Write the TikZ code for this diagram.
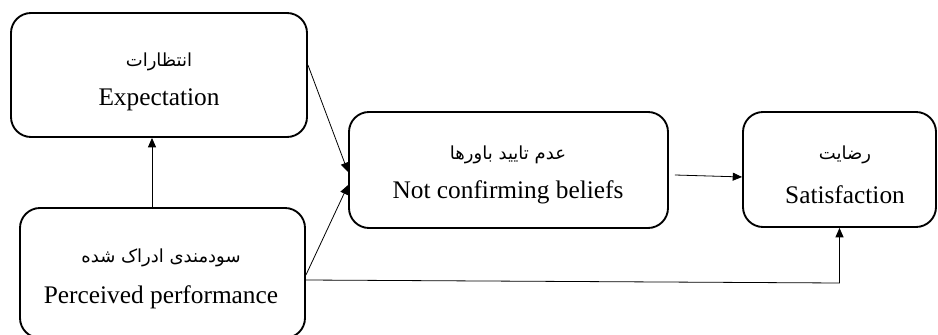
\documentclass[tikz,border=0pt]{standalone}
\usepackage{fontspec}
\setmainfont{Liberation Serif}
\newfontfamily\arabicfont[Script=Arabic]{DejaVu Sans}
\newfontfamily\latinserif{Liberation Serif}
\TeXXeTstate=1
\usetikzlibrary{arrows.meta,calc}
\tikzset{
  box/.style={draw, line width=1.4pt, rounded corners=15pt, align=center, inner sep=0pt},
  arr/.style={line width=0.6pt, -{Triangle[length=7pt,width=6pt]}},
  en/.style={font=\latinserif\fontsize{19}{22}\selectfont},
  fa/.style={font=\arabicfont\fontsize{13.5}{15}\selectfont}
}
\begin{document}
\begin{tikzpicture}[x=0.75pt,y=-0.75pt]
\useasboundingbox (0,0) rectangle (938,335);
\clip (0,0) rectangle (938,335);
\node[box, minimum width={296*0.75pt}, minimum height={124*0.75pt}] (exp) at (159,75) {};
\node[box, minimum width={285*0.75pt}, minimum height={130*0.75pt}] (per) at (162.5,273) {};
\node[box, minimum width={319*0.75pt}, minimum height={116*0.75pt}] (ncb) at (508.5,170) {};
\node[box, minimum width={193*0.75pt}, minimum height={115*0.75pt}] (sat) at (839.5,169.5) {};
% English texts
\node[en] (expen) at (159,100) {Expectation};
\node[en] (peren) at (161,297) {Perceived performance};
\node[en] (ncben) at (508,192) {Not confirming beliefs};
\node[en] (saten) at (845,195) {Satisfaction};
% Persian texts
\node[fa] (expfa) at (159,62) {\beginR انتظارات\endR};
\node[fa] (perfa) at (161,258) {\beginR سودمندی ادراک شده\endR};
\node[fa] (ncbfa) at (508,155) {\beginR عدم تایید باورها\endR};
\node[fa] (satfa) at (845,155) {\beginR رضایت\endR};
% connectors
\draw[arr] ([xshift=-7.875pt]per.north) -- ([xshift=-7.875pt]per.north |- exp.south);
\draw[arr] ([yshift=7.5pt]exp.east) -- ([yshift=-1.5pt]ncb.west);
\draw[arr] ([yshift=-1.5pt]per.east) -- ([yshift=-11.25pt]ncb.west);
\draw[arr] ([xshift=4.5pt,yshift=-3.75pt]ncb.east) -- ([yshift=-5.6pt]sat.west);
\coordinate (bend) at (839.5,283);
\draw[arr] ([yshift=-5.25pt]per.east) -- (bend) -- (sat.south);
\end{tikzpicture}
\end{document}
